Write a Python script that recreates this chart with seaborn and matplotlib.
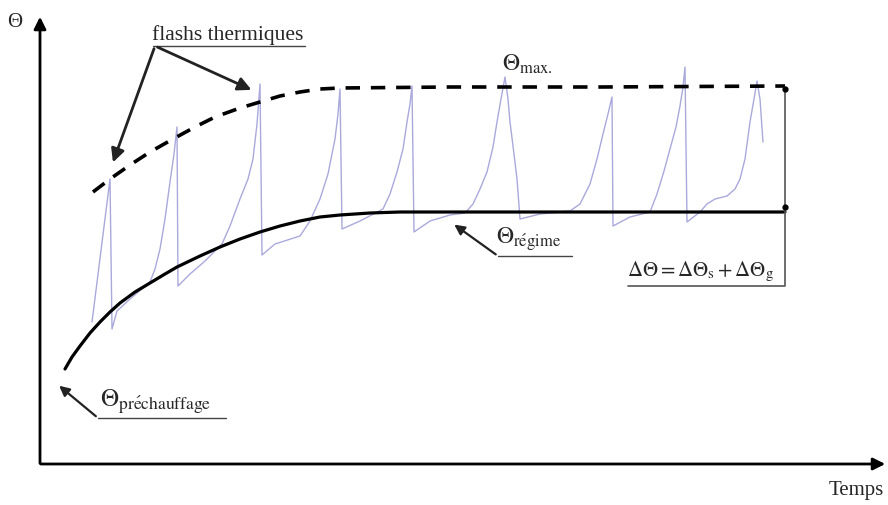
import numpy as np
import pandas as pd
import seaborn as sns
import matplotlib.pyplot as plt

# Schematic, in pixel units (y grows downward)
regime_x = [65, 72, 80, 90, 100, 110, 120, 135, 150, 165, 177, 200, 220, 240, 260, 280, 300,
            320, 340, 370, 400, 500, 600, 700, 785]
regime_y = [370, 358, 347, 334, 323, 313, 304, 293, 284, 275, 268, 257, 248, 240, 233, 227,
            222, 218, 216, 214, 213, 213, 213, 213, 213]

max_x = [93, 110, 130, 150, 173, 195, 215, 240, 260, 280, 300, 320, 340, 450, 600, 785]
max_y = [193, 180, 166, 153, 140, 128, 118, 109, 103, 97, 93, 90, 89, 88, 88, 87]

flash_x = [92, 110, 112, 117, 130, 150, 155, 160, 165, 170, 174, 177, 178, 190, 205, 215,
           222, 230, 240, 248, 253, 257, 260, 262, 275, 300, 310, 320, 328, 335, 338, 340,
           342, 360, 383, 390, 397, 403, 407, 410, 412, 414, 430, 450, 465, 473, 480, 487,
           493, 497, 501, 505, 508, 510, 514, 517, 520, 540, 570, 580, 590, 597, 603, 608,
           612, 613, 630, 650, 657, 664, 670, 676, 680, 683, 685, 687, 700, 707, 715, 727,
           735, 740, 745, 750, 754, 757, 760, 763]
flash_y = [323, 180, 330, 312, 300, 283, 270, 250, 220, 183, 155, 128, 287, 275, 262, 252,
           245, 227, 200, 180, 160, 125, 85, 256, 245, 237, 222, 200, 175, 140, 115, 90,
           230, 222, 210, 195, 173, 150, 123, 105, 87, 233, 222, 216, 214, 205, 190, 173,
           148, 123, 100, 78, 100, 123, 155, 180, 220, 215, 212, 205, 185, 160, 135, 115,
           98, 227, 218, 213, 195, 172, 150, 128, 107, 88, 68, 223, 213, 205, 200, 197,
           190, 180, 160, 123, 100, 82, 100, 143]

W, H = 888, 506

sns.set_theme(style="white")
plt.rcParams["font.family"] = ["Liberation Serif", "DejaVu Serif"]
plt.rcParams["mathtext.fontset"] = "stix"

fig = plt.figure(figsize=(W / 100, H / 100), dpi=100)
ax = fig.add_axes([0, 0, 1, 1])
ax.set_xlim(0, W)
ax.set_ylim(H, 0)
ax.axis("off")

flash = pd.DataFrame({"x": flash_x, "y": flash_y})
regime = pd.DataFrame({"x": regime_x, "y": regime_y})
tmax = pd.DataFrame({"x": max_x, "y": max_y})

sns.lineplot(data=flash, x="x", y="y", sort=False, color="#a9a9dc", lw=1.0, ax=ax)
sns.lineplot(data=regime, x="x", y="y", sort=False, color="black", lw=2.3, ax=ax)
sns.lineplot(data=tmax, x="x", y="y", sort=False, color="black", lw=2.6,
             linestyle=(0, (4, 3)), ax=ax)

# axes with arrows
arrow = dict(arrowstyle="-|>", color="black", lw=2, mutation_scale=18)
ax.annotate("", xy=(40, 15), xytext=(40, 467), arrowprops=arrow)
ax.annotate("", xy=(888, 465), xytext=(38, 465), arrowprops=arrow)
ax.text(7, 22, "Θ", fontsize=15, va="center")
ax.text(884, 491, "Temps", fontsize=15, va="center", ha="right")

# delta bracket
ax.plot([628, 785, 785], [287, 287, 88], color="#555555", lw=1.2)
ax.plot([785, 785], [90, 208], "o", color="black", ms=3.5)
ax.text(627, 284, r"$\Delta\Theta = \Delta\Theta_{\mathrm{s}} + \Delta\Theta_{\mathrm{g}}$",
        fontsize=15, va="bottom")

# labels
ax.text(502, 76, r"$\Theta_{\mathrm{max.}}$", fontsize=17, va="bottom")

ax.text(152, 45, "flashs thermiques", fontsize=15.5, va="bottom")
ax.plot([153, 305], [47, 47], color="#444444", lw=1)
arrow2 = dict(arrowstyle="-|>", color="#222222", lw=2, mutation_scale=20)
ax.annotate("", xy=(112, 166), xytext=(155, 47), arrowprops=arrow2)
ax.annotate("", xy=(254, 92), xytext=(155, 47), arrowprops=arrow2)

ax.text(496, 253, r"$\Theta_{\mathrm{r\acute{e}gime}}$", fontsize=17, va="bottom")
ax.plot([498, 572], [257, 257], color="#444444", lw=1)
ax.annotate("", xy=(452, 224), xytext=(498, 257),
            arrowprops=dict(arrowstyle="-|>", color="#222222", lw=1.6, mutation_scale=15))

ax.text(100, 416, r"$\Theta_{\mathrm{pr\acute{e}chauffage}}$", fontsize=18, va="bottom")
ax.plot([98, 226], [419, 419], color="#444444", lw=1)
ax.annotate("", xy=(57, 385), xytext=(98, 419),
            arrowprops=dict(arrowstyle="-|>", color="#222222", lw=1.6, mutation_scale=15))

fig.savefig("out.png", dpi=100)
